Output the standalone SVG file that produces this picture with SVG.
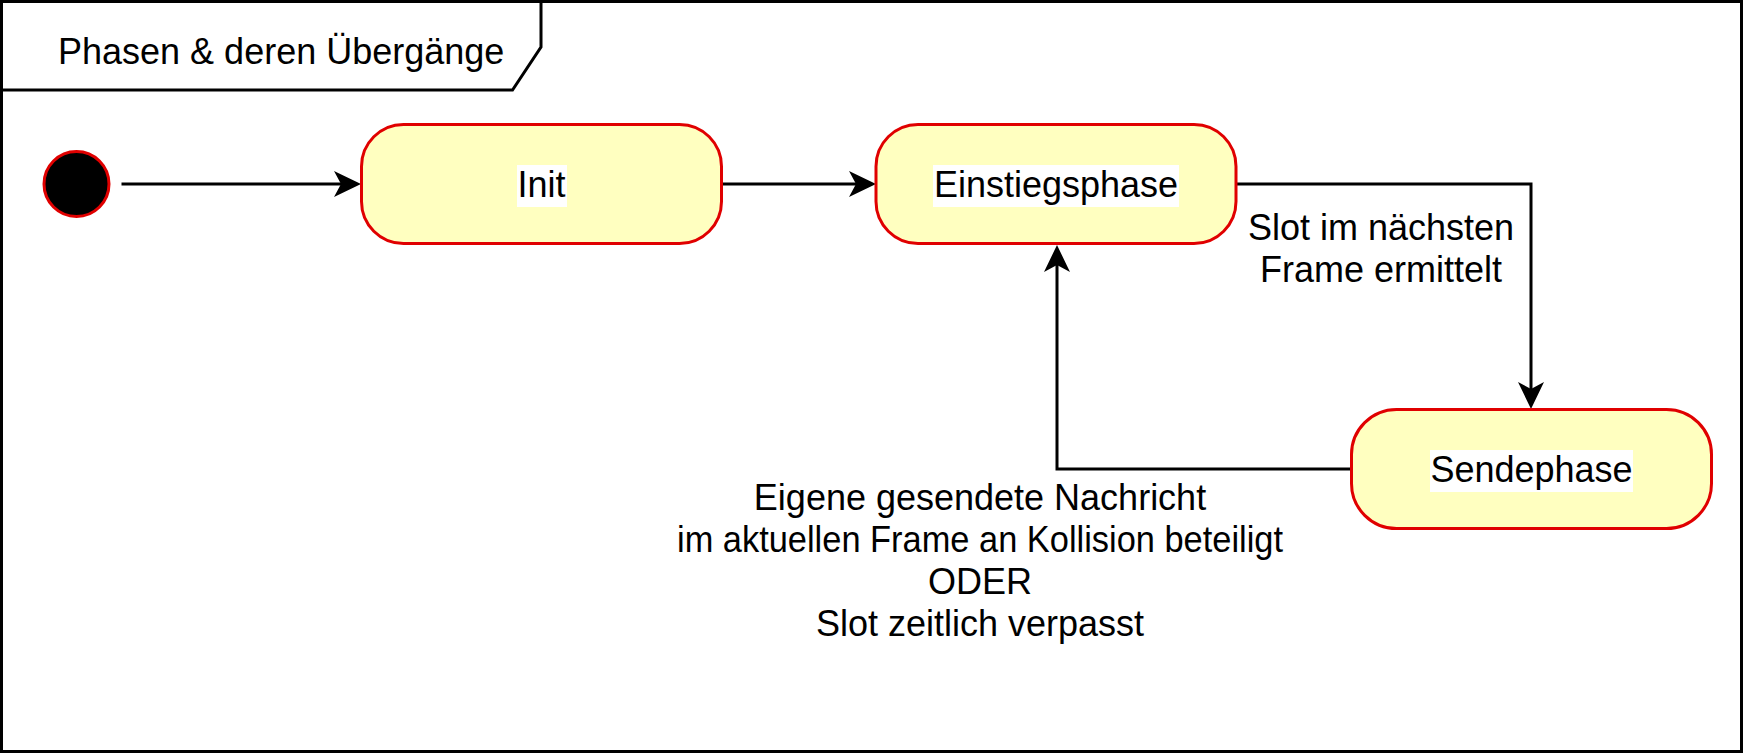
<svg xmlns="http://www.w3.org/2000/svg" width="1743" height="753" viewBox="0 0 1743 753">
  <style>
    .frame { fill: #FFFFFF; stroke: #000000; stroke-width: 3; }
    .tab { fill: none; stroke: #000000; stroke-width: 3; }
    .state { fill: #FFFFC0; stroke: #E00000; stroke-width: 3; }
    .init { fill: #000000; stroke: #E00000; stroke-width: 3; }
    .edge { fill: none; stroke: #000000; stroke-width: 3; }
    .lblbg { fill: #FFFFFF; stroke: none; }
    text { font-family: "Liberation Sans", Arial, Helvetica, sans-serif; font-size: 36px; fill: #000000; }
    .c { text-anchor: middle; }
  </style>
  <defs>
    <marker id="arrow" markerUnits="userSpaceOnUse" viewBox="-8 -14 30 28" refX="0" refY="0" markerWidth="30" markerHeight="28" orient="auto" overflow="visible">
      <path d="M20,0 L-7,-13 L0,0 L-7,13 Z" fill="#000000" stroke="none"/>
    </marker>
  </defs>

  <g id="frame">
    <rect class="frame" x="1.5" y="1.5" width="1740" height="750"/>
    <path class="tab" d="M1.5,90 H512.5 L541,47 V1.5"/>
    <text x="58" y="63.5">Phasen &amp; deren Übergänge</text>
  </g>

  <g id="connectors">
    <path class="edge" d="M121.5,184 H341" marker-end="url(#arrow)"/>
    <path class="edge" d="M722,184 H856" marker-end="url(#arrow)"/>
    <path class="edge" d="M1236,184 H1531 V389" marker-end="url(#arrow)"/>
    <path class="edge" d="M1351,469 H1057 V265" marker-end="url(#arrow)"/>
  </g>

  <g id="start">
    <circle class="init" cx="76.5" cy="184" r="32.5"/>
  </g>

  <g id="node-init">
    <rect class="state" x="361.5" y="124.5" width="360" height="119" rx="42" ry="42"/>
    <rect class="lblbg" x="517" y="165" width="50" height="42"/>
    <text class="c" x="541.5" y="197">Init</text>
  </g>

  <g id="node-einstiegsphase">
    <rect class="state" x="876" y="124.5" width="360" height="119" rx="42" ry="42"/>
    <rect class="lblbg" x="933" y="165" width="246" height="42"/>
    <text class="c" x="1056" y="197">Einstiegsphase</text>
  </g>

  <g id="node-sendephase">
    <rect class="state" x="1351.5" y="409.5" width="360" height="119" rx="45" ry="45"/>
    <rect class="lblbg" x="1430" y="450" width="203" height="42"/>
    <text class="c" x="1531.5" y="482">Sendephase</text>
  </g>

  <g id="label-slot">
    <text class="c" x="1381" y="240">Slot im nächsten</text>
    <text class="c" x="1381" y="282">Frame ermittelt</text>
  </g>

  <g id="label-kollision">
    <text class="c" x="980" y="510">Eigene gesendete Nachricht</text>
    <text class="c" x="980" y="552" textLength="606" lengthAdjust="spacingAndGlyphs">im aktuellen Frame an Kollision beteiligt</text>
    <text class="c" x="980" y="594">ODER</text>
    <text class="c" x="980" y="636">Slot zeitlich verpasst</text>
  </g>
</svg>
